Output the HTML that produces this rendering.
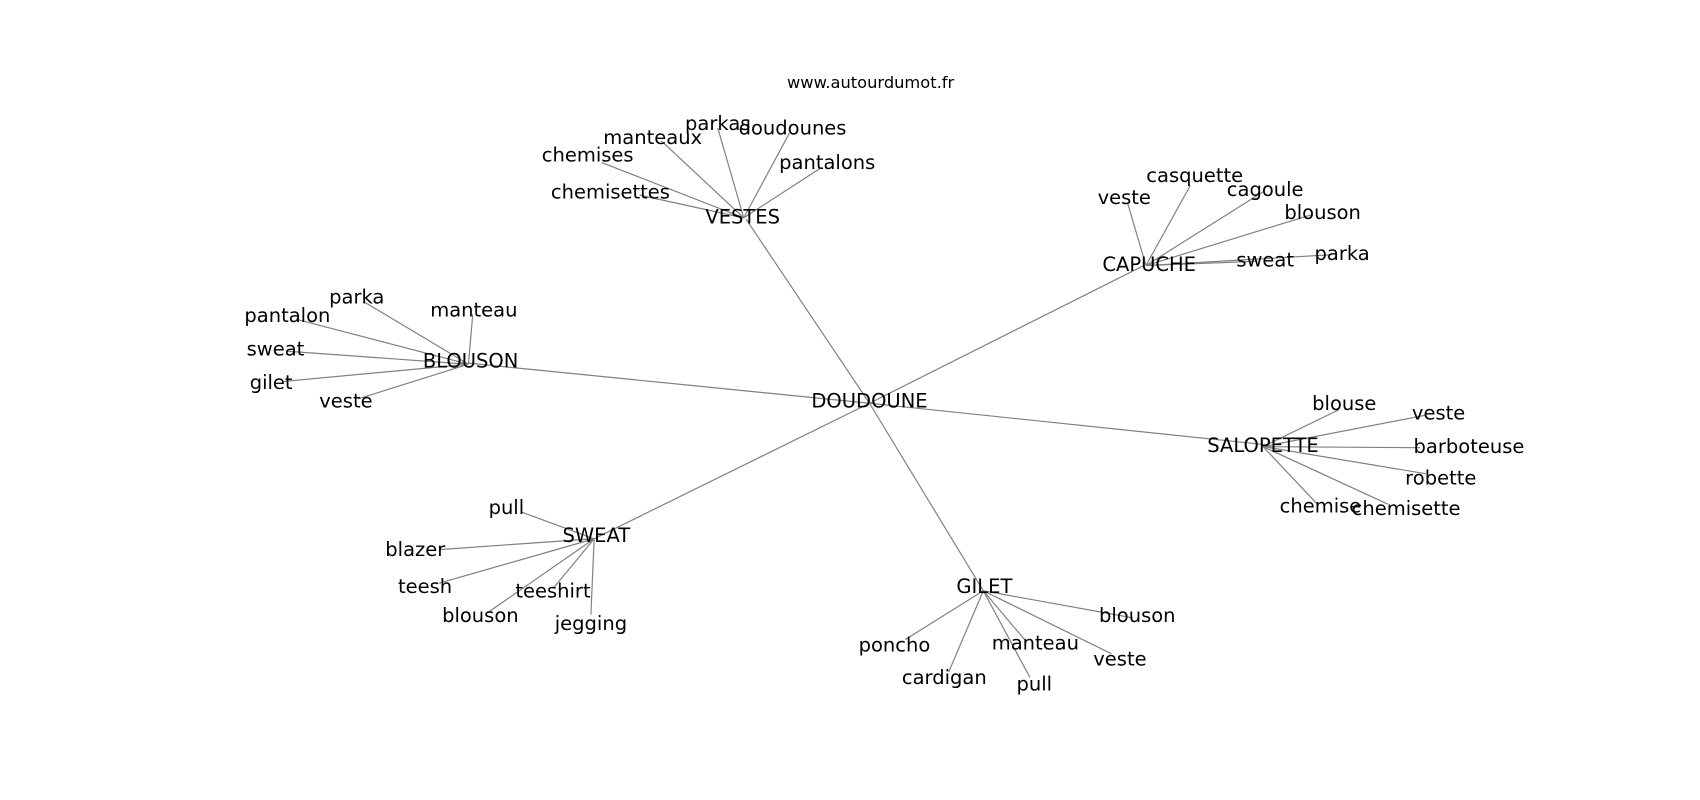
<!DOCTYPE html>
<html><head><meta charset="utf-8"><style>
html,body{margin:0;padding:0;background:#fff;width:1700px;height:800px;overflow:hidden}
text{font-family:"DejaVu Sans","Liberation Sans",sans-serif;font-size:18px;fill:#000;text-anchor:middle;dominant-baseline:central}
line{stroke:#808080;stroke-width:1.1}
</style></head><body>
<svg width="1700" height="800" viewBox="0 0 1568 738" xmlns="http://www.w3.org/2000/svg">
<g>
<line x1="802" y1="372" x2="688" y2="202"/>
<line x1="802" y1="372" x2="1055" y2="245"/>
<line x1="802" y1="372" x2="432" y2="335"/>
<line x1="802" y1="372" x2="1165" y2="410"/>
<line x1="802" y1="372" x2="548" y2="497"/>
<line x1="802" y1="372" x2="907" y2="545"/>
<line x1="686" y1="201" x2="590" y2="180"/>
<line x1="686" y1="201" x2="555" y2="150"/>
<line x1="686" y1="201" x2="610" y2="130"/>
<line x1="686" y1="201" x2="662" y2="118"/>
<line x1="686" y1="201" x2="728" y2="123"/>
<line x1="686" y1="201" x2="757" y2="155"/>
<line x1="1057" y1="245" x2="1040" y2="187"/>
<line x1="1057" y1="245" x2="1098" y2="171"/>
<line x1="1057" y1="245" x2="1165" y2="177"/>
<line x1="1057" y1="245" x2="1210" y2="198"/>
<line x1="1057" y1="245" x2="1160" y2="241"/>
<line x1="1057" y1="245" x2="1228" y2="235"/>
<line x1="432" y1="336" x2="335" y2="278"/>
<line x1="432" y1="336" x2="436" y2="290"/>
<line x1="432" y1="336" x2="275" y2="295"/>
<line x1="432" y1="336" x2="265" y2="324"/>
<line x1="432" y1="336" x2="260" y2="352"/>
<line x1="432" y1="336" x2="330" y2="368"/>
<line x1="1165" y1="412" x2="1235" y2="378"/>
<line x1="1165" y1="412" x2="1315" y2="383"/>
<line x1="1165" y1="412" x2="1310" y2="413"/>
<line x1="1165" y1="412" x2="1315" y2="437"/>
<line x1="1165" y1="412" x2="1215" y2="465"/>
<line x1="1165" y1="412" x2="1280" y2="465"/>
<line x1="548" y1="497" x2="480" y2="472"/>
<line x1="548" y1="497" x2="405" y2="507"/>
<line x1="548" y1="497" x2="405" y2="538"/>
<line x1="548" y1="497" x2="510" y2="543"/>
<line x1="548" y1="497" x2="450" y2="565"/>
<line x1="548" y1="497" x2="545" y2="567"/>
<line x1="907" y1="545" x2="835" y2="590"/>
<line x1="907" y1="545" x2="875" y2="620"/>
<line x1="907" y1="545" x2="945" y2="590"/>
<line x1="907" y1="545" x2="950" y2="625"/>
<line x1="907" y1="545" x2="1025" y2="603"/>
<line x1="907" y1="545" x2="1045" y2="570"/>
</g>
<text x="803" y="76" style="font-size:15px">www.autourdumot.fr</text>
<text x="802" y="370">DOUDOUNE</text>
<text x="685" y="200">VESTES</text>
<text x="1060" y="244">CAPUCHE</text>
<text x="434" y="333">BLOUSON</text>
<text x="1165" y="411">SALOPETTE</text>
<text x="550" y="494">SWEAT</text>
<text x="908" y="541">GILET</text>

<text x="563" y="177">chemisettes</text>
<text x="542" y="143">chemises</text>
<text x="602" y="127">manteaux</text>
<text x="662" y="114">parkas</text>
<text x="731" y="118">doudounes</text>
<text x="763" y="150">pantalons</text>

<text x="1037" y="182">veste</text>
<text x="1102" y="162">casquette</text>
<text x="1167" y="175">cagoule</text>
<text x="1220" y="196">blouson</text>
<text x="1167" y="240">sweat</text>
<text x="1238" y="234">parka</text>

<text x="329" y="274">parka</text>
<text x="437" y="286">manteau</text>
<text x="265" y="291">pantalon</text>
<text x="254" y="322">sweat</text>
<text x="250" y="353">gilet</text>
<text x="319" y="370">veste</text>

<text x="1240" y="372">blouse</text>
<text x="1327" y="381">veste</text>
<text x="1355" y="412">barboteuse</text>
<text x="1329" y="441">robette</text>
<text x="1218" y="467">chemise</text>
<text x="1297" y="469">chemisette</text>

<text x="467" y="468">pull</text>
<text x="383" y="507">blazer</text>
<text x="392" y="541">teesh</text>
<text x="510" y="545">teeshirt</text>
<text x="443" y="568">blouson</text>
<text x="545" y="575">jegging</text>

<text x="825" y="595">poncho</text>
<text x="871" y="625">cardigan</text>
<text x="955" y="593">manteau</text>
<text x="954" y="631">pull</text>
<text x="1033" y="608">veste</text>
<text x="1049" y="568">blouson</text>
</svg>
</body></html>
